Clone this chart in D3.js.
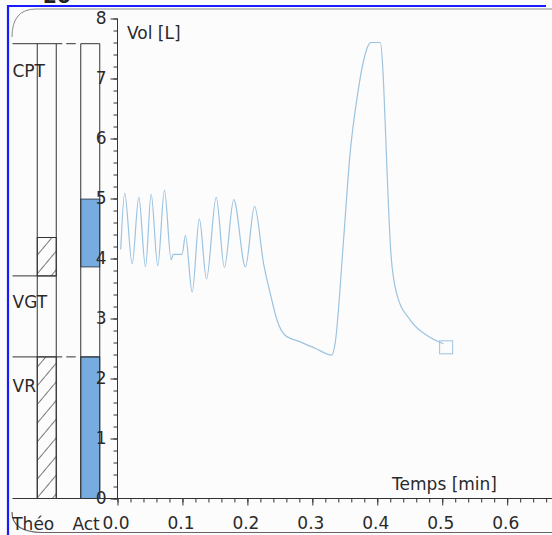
<!DOCTYPE html>
<html>
<head>
<meta charset="utf-8">
<script src="https://cdn.jsdelivr.net/npm/d3@7"></script>
<style>
  html, body { margin: 0; padding: 0; background: #fdfcfd; }
  svg { display: block; }
  text { font-family: "DejaVu Sans", Verdana, sans-serif; fill: #2a2a2a; }
</style>
</head>
<body>
<svg id="chart" width="552" height="535"></svg>
<script>
// ---- data ----
const timeMin = [0.005, 0.011, 0.0226, 0.0328, 0.0431, 0.0518, 0.062, 0.0723, 0.0826, 0.086, 0.0995, 0.1046, 0.115, 0.126, 0.137, 0.152, 0.1646, 0.179, 0.197, 0.211, 0.225, 0.236, 0.2457, 0.258, 0.2815, 0.305, 0.330, 0.335, 0.348, 0.358, 0.369, 0.379, 0.386, 0.390, 0.4046, 0.4087, 0.412, 0.416, 0.421, 0.430, 0.451, 0.476, 0.502];
const volumeL = [4.15, 5.09, 3.91, 5.02, 3.86, 5.07, 3.88, 5.14, 3.98, 4.07, 4.07, 4.38, 3.44, 4.66, 3.66, 5.02, 3.85, 4.98, 3.86, 4.87, 3.91, 3.38, 2.97, 2.72, 2.61, 2.50, 2.39, 2.58, 4.3, 5.74, 6.69, 7.3, 7.55, 7.6, 7.6, 7.13, 6.3, 5.19, 4.08, 3.41, 2.97, 2.72, 2.58];
const endMarker = [0.506, 2.52];

const columns = ["Théo", "Act"];
const levelNames = ["CPT", "VGT", "VR"];
const theoLevels = [7.58, 3.71, 2.36];
const hatchRanges = [[3.71, 4.35], [0, 2.36]];   // Théo column
const actRanges = [[3.86, 4.99], [0, 2.36]];     // Act column

const yTicks = [0, 1, 2, 3, 4, 5, 6, 7, 8];
const xTicks = [0.0, 0.1, 0.2, 0.3, 0.4, 0.5, 0.6];

// ---- layout ----
const svg = d3.select("#chart");
const W = 552, H = 535;
const x0 = 117.5, y0 = 498.5;

const x = d3.scaleLinear().domain([0, 0.669]).range([x0, 552]);
const y = d3.scaleLinear().domain([0, 8]).range([y0, 18.5]);
const col = d3.scalePoint().domain(columns).range([46.75, 90.25]);
const colW = 19;

const defs = svg.append("defs");
const pat = defs.append("pattern").attr("id", "hatch").attr("patternUnits", "userSpaceOnUse")
  .attr("width", 12).attr("height", 12).attr("patternTransform", "rotate(40)");
pat.append("line").attr("x1", 0).attr("y1", -2).attr("x2", 0).attr("y2", 14)
  .attr("stroke", "#333").attr("stroke-width", 1.3);

// top strip fragment text
svg.append("text").attr("x", 43).attr("y", 3).attr("font-size", 20).attr("font-weight", "bold")
  .style("fill", "#222").text("20");

// rounded frame (corners + top/bottom edges)
const r = 20;
svg.append("path")
  .attr("d", `M12,${9 + r + 8} Q12,9 ${12 + r + 4},9 H552`)
  .attr("fill", "none").attr("stroke", "#8a8a8a").attr("stroke-width", 1);
svg.append("path")
  .attr("d", `M12,${532 - r} Q12,532 ${12 + r + 10},532.5 H552`)
  .attr("fill", "none").attr("stroke", "#666").attr("stroke-width", 1.2);

// blue border
svg.append("line").attr("x1", 8).attr("x2", 546).attr("y1", 6).attr("y2", 6)
  .attr("stroke", "#1a1aff").attr("stroke-width", 2.2);
svg.append("line").attr("x1", 8).attr("x2", 8).attr("y1", 5).attr("y2", 535)
  .attr("stroke", "#1a1aff").attr("stroke-width", 2.2);

// ---- left panel ----
const lp = svg.append("g");
const colLeft = c => col(c) - colW / 2;
const colRight = c => col(c) + colW / 2;

// Act bars (blue)
lp.selectAll("rect.act").data(actRanges).join("rect").attr("class", "act")
  .attr("x", colLeft("Act")).attr("width", colW)
  .attr("y", d => y(d[1])).attr("height", d => y(d[0]) - y(d[1]))
  .attr("fill", "#76acdf").attr("stroke", "#3a4a5a").attr("stroke-width", 1);

// Théo hatched
lp.selectAll("rect.theo").data(hatchRanges).join("rect").attr("class", "theo")
  .attr("x", colLeft("Théo")).attr("width", colW)
  .attr("y", d => y(d[1])).attr("height", d => y(d[0]) - y(d[1]))
  .attr("fill", "url(#hatch)").attr("stroke", "#333").attr("stroke-width", 1);

// column verticals
columns.forEach(c => {
  [colLeft(c), colRight(c)].forEach(xx => {
    lp.append("line").attr("x1", xx).attr("x2", xx).attr("y1", y(theoLevels[0])).attr("y2", y0)
      .attr("stroke", "#333").attr("stroke-width", 1);
  });
});

// level lines
theoLevels.forEach((v, i) => {
  const full = i !== 1;
  if (full) {
    lp.append("line").attr("x1", 12.5).attr("x2", colRight("Théo") + 6).attr("y1", y(v)).attr("y2", y(v))
      .attr("stroke", "#333").attr("stroke-width", 1);
    lp.append("line").attr("x1", colRight("Théo") + 10).attr("x2", colLeft("Act") - 5).attr("y1", y(v)).attr("y2", y(v))
      .attr("stroke", "#333").attr("stroke-width", 1);
    lp.append("line").attr("x1", colLeft("Act")).attr("x2", colRight("Act")).attr("y1", y(v)).attr("y2", y(v))
      .attr("stroke", "#333").attr("stroke-width", 1);
  } else {
    lp.append("line").attr("x1", 12.5).attr("x2", colRight("Théo")).attr("y1", y(v)).attr("y2", y(v))
      .attr("stroke", "#333").attr("stroke-width", 1);
  }
});

// level labels
const labelY = [77, 308, 392];
levelNames.forEach((n, i) => {
  lp.append("text").attr("x", 12.5).attr("y", labelY[i]).attr("font-size", 17).text(n);
});

// column labels
lp.append("text").attr("x", colRight("Théo") - 2).attr("y", 530).attr("text-anchor", "end").attr("font-size", 17).text(columns[0]);
lp.append("text").attr("x", colRight("Act")).attr("y", 530).attr("text-anchor", "end").attr("font-size", 17).text(columns[1]);

// ---- axes ----
const yMinor = d3.range(0, 8.01, 0.2);
const xMinor = d3.range(0, 0.67, 0.02);

const gy = svg.append("g").attr("transform", `translate(${x0},0)`);
gy.call(d3.axisLeft(y).tickValues(yMinor).tickSize(4).tickFormat(""));
gy.call(g => g.select(".domain").remove());
const gyM = svg.append("g").attr("transform", `translate(${x0},0)`);
gyM.call(d3.axisLeft(y).tickValues(yTicks).tickSize(7).tickPadding(4).tickFormat(d3.format("d")));
gyM.selectAll("text").attr("font-size", 17).style("fill", "#2a2a2a").attr("font-family", "DejaVu Sans, Verdana, sans-serif");
gy.selectAll("line").attr("stroke", "#333");
gyM.selectAll("line").attr("stroke", "#333");
gyM.select(".domain").attr("d", `M0,${y(8)}V${y0}`).attr("stroke", "#333");

const gx = svg.append("g").attr("transform", `translate(0,${y0})`);
gx.call(d3.axisBottom(x).tickValues(xMinor).tickSize(4).tickFormat(""));
gx.call(g => g.select(".domain").remove());
const gxM = svg.append("g").attr("transform", `translate(0,${y0})`);
gxM.call(d3.axisBottom(x).tickValues(xTicks).tickSize(7).tickPadding(11).tickFormat(d3.format(".1f")));
gxM.selectAll("text").attr("font-size", 17).style("fill", "#2a2a2a").attr("font-family", "DejaVu Sans, Verdana, sans-serif").attr("dx", -2);
gx.selectAll("line").attr("stroke", "#333");
gxM.selectAll("line").attr("stroke", "#333");
gxM.select(".domain").attr("d", `M12.5,0H552`).attr("stroke", "#333");

// axis titles
svg.append("text").attr("x", 127).attr("y", 39).attr("font-size", 17).text("Vol [L]");
svg.append("text").attr("x", 497).attr("y", 490).attr("text-anchor", "end").attr("font-size", 17).text("Temps [min]");

// ---- trace ----
const pts = timeMin.map((t, i) => [t, volumeL[i]]);
const line = d3.line().x(d => x(d[0])).y(d => y(d[1])).curve(d3.curveMonotoneX);
svg.append("path").datum(pts).attr("d", line).attr("fill", "none")
  .attr("stroke", "#9cc3df").attr("stroke-width", 1.2);
svg.append("rect").attr("x", x(endMarker[0]) - 6.5).attr("y", y(endMarker[1]) - 6.5)
  .attr("width", 13).attr("height", 13).attr("fill", "none").attr("stroke", "#9cc3df").attr("stroke-width", 1);
</script>
</body>
</html>
